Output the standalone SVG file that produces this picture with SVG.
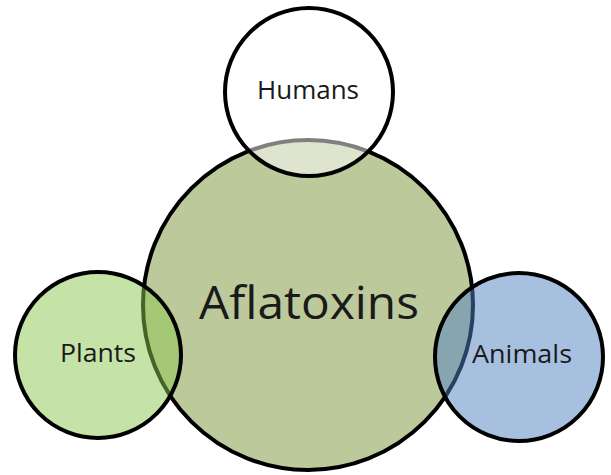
<svg xmlns="http://www.w3.org/2000/svg" width="611" height="475" viewBox="0 0 611 475">
<style>
.c{stroke:#000;stroke-width:4}
.t{font-family:"Open Sans","Liberation Sans",sans-serif;fill:#1a1a1a}
</style>
<rect width="611" height="475" fill="#fff"/>
<g id="aflatoxins">
<circle class="c" cx="308" cy="305" r="165" fill="#bcc99b"/>
<text class="t" x="309" y="319" font-size="46" text-anchor="middle" textLength="220" lengthAdjust="spacingAndGlyphs">Aflatoxins</text>
</g>
<g id="humans">
<circle class="c" cx="309" cy="92" r="84" fill="#fff" fill-opacity="0.5"/>
<text class="t" x="308" y="99" font-size="25" text-anchor="middle" textLength="102" lengthAdjust="spacingAndGlyphs">Humans</text>
</g>
<g id="plants">
<circle class="c" cx="98" cy="355" r="83" fill="#8cc850" fill-opacity="0.5"/>
<text class="t" x="98" y="362" font-size="25" text-anchor="middle" textLength="76" lengthAdjust="spacingAndGlyphs">Plants</text>
</g>
<g id="animals">
<circle class="c" cx="519" cy="357" r="84" fill="#5282c2" fill-opacity="0.5"/>
<text class="t" x="522" y="363" font-size="25" text-anchor="middle" textLength="100" lengthAdjust="spacingAndGlyphs">Animals</text>
</g>
<g id="connectors"></g>
</svg>
